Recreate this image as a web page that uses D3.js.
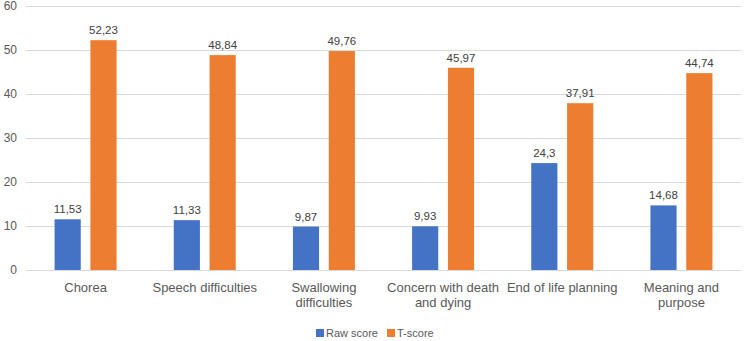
<!DOCTYPE html>
<html>
<head>
<meta charset="utf-8">
<script src="https://cdn.jsdelivr.net/npm/d3@7"></script>
<style>
  body { margin: 0; background: #fff; }
  text { font-family: "Liberation Sans", Arial, sans-serif; fill: #595959; }
</style>
</head>
<body>
<div id="chart"></div>
<script>
const categories = [
    ['Chorea'],
    ['Speech difficulties'],
    ['Swallowing', 'difficulties'],
    ['Concern with death', 'and dying'],
    ['End of life planning'],
    ['Meaning and', 'purpose']
];
const seriesNames = ['Raw score', 'T-score'];
const rawScore = [11.53, 11.33, 9.87, 9.93, 24.3, 14.68];
const tScore = [52.23, 48.84, 49.76, 45.97, 37.91, 44.74];
const yTicks = [0, 10, 20, 30, 40, 50, 60];
const colors = ['#4472C4', '#ED7D31'];

const W = 746, H = 341;
const margin = { top: 6, right: 5, bottom: 71, left: 26 };
const width = W - margin.left - margin.right;
const height = H - margin.top - margin.bottom;

const svg = d3.select('#chart').append('svg')
    .attr('width', W)
    .attr('height', H);
const g = svg.append('g')
    .attr('transform', `translate(${margin.left},${margin.top})`);

const x0 = d3.scaleBand()
    .domain(d3.range(categories.length))
    .range([0, width]);

const x1 = d3.scaleBand()
    .domain([0, 1])
    .range([x0.bandwidth() / 2 - 31, x0.bandwidth() / 2 + 31])
    .paddingInner(0.27);

const y = d3.scaleLinear()
    .domain([0, 60])
    .range([height, 0]);

// Gridlines
g.selectAll('.grid')
    .data(yTicks)
    .enter()
    .append('line')
    .attr('x1', 0)
    .attr('x2', width)
    .attr('y1', d => Math.round(y(d)) + 0.5)
    .attr('y2', d => Math.round(y(d)) + 0.5)
    .attr('stroke', '#d9d9d9')
    .attr('stroke-width', 1);

// Y tick labels
g.selectAll('.ytick')
    .data(yTicks)
    .enter()
    .append('text')
    .attr('x', -9)
    .attr('y', d => y(d) + 4)
    .attr('text-anchor', 'end')
    .attr('font-size', '12px')
    .text(d => d);

const rows = categories.map((c, i) => [rawScore[i], tScore[i]]);

const groups = g.selectAll('.cat')
    .data(rows)
    .enter()
    .append('g')
    .attr('transform', (d, i) => `translate(${x0(i)},0)`);

groups.selectAll('rect')
    .data(d => d)
    .enter()
    .append('rect')
    .attr('x', (d, j) => x1(j))
    .attr('width', x1.bandwidth())
    .attr('y', d => y(d))
    .attr('height', d => y(0) - y(d))
    .attr('fill', (d, j) => colors[j]);

const fmt = v => String(v).replace('.', ',');

groups.selectAll('.val')
    .data(d => d)
    .enter()
    .append('text')
    .attr('x', (d, j) => x1(j) + x1.bandwidth() / 2)
    .attr('y', d => y(d) - 6)
    .attr('text-anchor', 'middle')
    .attr('font-size', '11.5px')
    .style('fill', '#404040')
    .text(fmt);

// Category labels
categories.forEach((lines, i) => {
    const cx = x0(i) + x0.bandwidth() / 2;
    const t = g.append('text')
        .attr('x', cx)
        .attr('y', height + 22)
        .attr('text-anchor', 'middle')
        .attr('font-size', '13px');
    lines.forEach((line, k) => {
        t.append('tspan')
            .attr('x', cx)
            .attr('dy', k === 0 ? 0 : 15)
            .text(line);
    });
});

// Legend
const legendX = [316, 387];
const legend = svg.append('g');
seriesNames.forEach((name, j) => {
    legend.append('rect')
        .attr('x', legendX[j])
        .attr('y', 329)
        .attr('width', 8)
        .attr('height', 8)
        .attr('fill', colors[j]);
    legend.append('text')
        .attr('x', legendX[j] + 10)
        .attr('y', 337)
        .attr('font-size', '11px')
        .text(name);
});
</script>
</body>
</html>
